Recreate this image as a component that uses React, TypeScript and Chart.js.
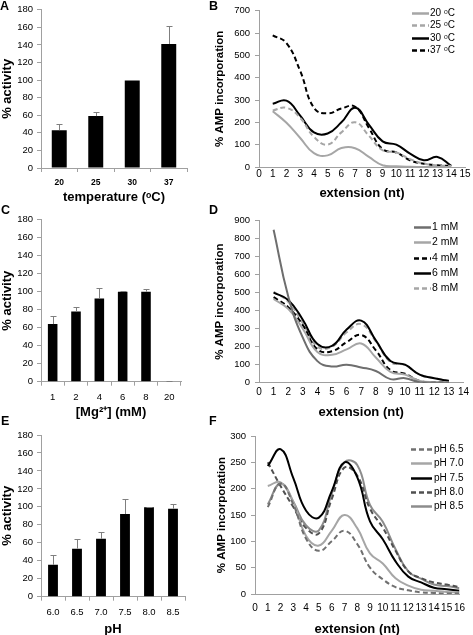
import React, { useEffect, useRef } from "react";
import { Chart, registerables } from "chart.js";
Chart.register(...registerables);

const FONT = "'Liberation Sans', Arial, Helvetica, sans-serif";
const AXIS = "#a0a0a0";
const LIGHT = "#a6a6a6";

// ---- Panel A: temperature bars ----
const tempCategories = ["20", "25", "30", "37"];
const tempActivity = [43, 59, 99.5, 141];
const tempError = [7.5, 4.5, 1, 20];

// ---- Panel C: Mg bars ----
const mgCategories = ["1", "2", "4", "6", "8", "20"];
const mgActivity = [64, 78, 92.5, 100, 100, 0.5];
const mgError = [8.5, 4.5, 11.5, 0.5, 3, 0.5];

// ---- Panel E: pH bars ----
const phCategories = ["6.0", "6.5", "7.0", "7.5", "8.0", "8.5"];
const phActivity = [35.5, 53.5, 64.5, 92, 99.5, 98];
const phError = [10.5, 10.5, 7, 17, 0.5, 5.5];

// ---- Panel B: extension vs temperature ----
const extB = [1, 2, 3, 4, 5, 6, 7, 8, 9, 10, 11, 12, 13, 14];
const t20 = [250, 198, 130, 62, 52, 85, 84, 45, 8, 3, 1, 0, 0, 0];
const t25 = [253, 265, 220, 135, 100, 155, 200, 140, 75, 65, 35, 15, 8, 5];
const t30 = [283, 297, 230, 155, 150, 200, 265, 190, 115, 100, 60, 30, 45, 5];
const t37 = [590, 555, 430, 265, 240, 262, 270, 175, 80, 65, 30, 15, 8, 5];

// ---- Panel D: extension vs Mg ----
const extD = [1, 2, 3, 4, 5, 6, 7, 8, 9, 10, 11, 12, 13];
const mg1 = [850, 480, 250, 120, 90, 100, 85, 65, 20, 25, 2, 0, 0];
const mg2 = [465, 410, 300, 170, 155, 185, 218, 140, 60, 45, 10, 3, 2];
const mg4 = [475, 420, 320, 185, 175, 225, 265, 180, 70, 50, 10, 3, 2];
const mg6 = [500, 460, 350, 215, 205, 295, 345, 235, 120, 100, 45, 25, 10];
const mg8 = [505, 450, 330, 200, 200, 280, 325, 230, 115, 98, 45, 25, 12];

// ---- Panel F: extension vs pH ----
const extF = [1, 2, 3, 4, 5, 6, 7, 8, 9, 10, 11, 12, 13, 14, 15, 16];
const ph65 = [165, 210, 170, 105, 82, 100, 120, 95, 50, 28, 13, 7, 3, 2, 1, 1];
const ph70 = [205, 212, 175, 110, 92, 120, 150, 125, 77, 58, 30, 16, 8, 6, 4, 3];
const ph75 = [243, 275, 220, 158, 145, 195, 250, 222, 138, 104, 62, 33, 22, 12, 9, 6];
const ph80 = [250, 205, 165, 125, 115, 180, 240, 225, 162, 126, 82, 43, 30, 22, 18, 13];
const ph85 = [170, 210, 175, 130, 121, 190, 250, 245, 169, 137, 85, 43, 29, 18, 15, 11];

const errorBarPlugin = {
  id: "errorBars",
  afterDatasetsDraw(chart: any, _args: any, opts: any) {
    const errs: number[] = opts.errors;
    if (!errs) return;
    const meta = chart.getDatasetMeta(0);
    const ys = chart.scales.y;
    const ctx = chart.ctx;
    const vals = chart.data.datasets[0].data;
    ctx.save();
    ctx.strokeStyle = opts.color;
    ctx.lineWidth = 1;
    meta.data.forEach((bar: any, i: number) => {
      const top = Math.round(ys.getPixelForValue(vals[i] + errs[i])) + 0.5;
      const x = Math.round(bar.x) + 0.5;
      ctx.beginPath();
      ctx.moveTo(x, bar.y);
      ctx.lineTo(x, top);
      ctx.moveTo(x - opts.cap, top);
      ctx.lineTo(x + opts.cap, top);
      ctx.stroke();
    });
    ctx.restore();
  },
};

const lineLegendPlugin = {
  id: "lineLegend",
  afterDraw(chart: any, _args: any, opts: any) {
    if (!opts || opts.x0 === undefined) return;
    const ctx = chart.ctx;
    chart.data.datasets.forEach((ds: any, i: number) => {
      const y = Math.round(opts.y + i * opts.spacing) + 0.5;
      ctx.save();
      ctx.strokeStyle = ds.borderColor;
      ctx.lineWidth = 2.5;
      ctx.setLineDash(ds.borderDash || []);
      ctx.beginPath();
      ctx.moveTo(opts.x0, y);
      ctx.lineTo(opts.x1, y);
      ctx.stroke();
      ctx.setLineDash([]);
      ctx.fillStyle = "#000";
      ctx.font = `${opts.size}px ${FONT}`;
      ctx.textBaseline = "middle";
      ctx.textAlign = "left";
      ctx.fillText(ds.label, opts.tx, y);
      ctx.restore();
    });
  },
};

type Area = { l: number; r: number; t: number; b: number };

function barConfig(p: {
  labels: string[];
  values: number[];
  errors: number[];
  xTitle: string;
  w: number;
  h: number;
  area: Area;
  xTickFont: any;
  xTickPad: number;
  xTitlePad: number;
}) {
  return {
    type: "bar",
    data: {
      labels: p.labels,
      datasets: [
        {
          data: p.values,
          backgroundColor: "#000",
          borderWidth: 0,
          categoryPercentage: 0.5,
          barPercentage: 0.82,
        },
      ],
    },
    options: {
      animation: false,
      responsive: false,
      events: [],
      layout: { padding: { left: 0, top: p.area.t, right: p.w - p.area.r, bottom: 0 } },
      plugins: {
        legend: { display: false },
        tooltip: { enabled: false },
        errorBars: { errors: p.errors, color: "#7f7f7f", cap: 3 },
      },
      scales: {
        x: {
          type: "category",
          offset: true,
          grid: { display: true, drawOnChartArea: false, offset: true, tickLength: 4, color: AXIS },
          border: { color: AXIS },
          ticks: { font: p.xTickFont, color: "#000", padding: p.xTickPad, maxRotation: 0, autoSkip: false },
          title: {
            display: true,
            text: p.xTitle,
            color: "#000",
            font: { family: FONT, size: 13, weight: "bold" },
            padding: { top: 0, bottom: p.xTitlePad },
          },
          afterFit: (s: any) => {
            s.height = p.h - p.area.b;
          },
        },
        y: {
          min: 0,
          max: 180,
          ticks: { stepSize: 20, font: { family: FONT, size: 9.5 }, color: "#000", padding: 4 },
          grid: { display: true, drawOnChartArea: false, tickLength: 4, color: AXIS },
          border: { color: AXIS },
          title: {
            display: true,
            text: "% activity",
            color: "#000",
            font: { family: FONT, size: 13, weight: "bold" },
            padding: { top: 0, bottom: 0 },
          },
          afterFit: (s: any) => {
            s.width = p.area.l;
          },
        },
      },
    },
    plugins: [errorBarPlugin],
  };
}

type Series = { label: string; values: number[]; color: string; dash?: number[] };

function lineConfig(p: {
  xs: number[];
  series: Series[];
  xMax: number;
  yMax: number;
  yStep: number;
  w: number;
  h: number;
  area: Area;
  xTickPad: number;
  xTitlePad: number;
  yTitlePad: number;
  legend: any;
}) {
  return {
    type: "line",
    data: {
      datasets: p.series.map((s) => ({
        label: s.label,
        data: p.xs.map((x, i) => ({ x, y: s.values[i] })),
        borderColor: s.color,
        borderDash: s.dash || [],
        borderWidth: 2,
        pointRadius: 0,
        tension: 0.45,
        fill: false,
      })),
    },
    options: {
      animation: false,
      responsive: false,
      events: [],
      layout: { padding: { left: 0, top: p.area.t, right: p.w - p.area.r, bottom: 0 } },
      plugins: {
        legend: { display: false },
        tooltip: { enabled: false },
        lineLegend: p.legend,
      },
      scales: {
        x: {
          type: "linear",
          min: 0,
          max: p.xMax,
          grid: { display: true, drawOnChartArea: false, drawTicks: false, color: AXIS },
          border: { color: AXIS },
          ticks: {
            stepSize: 1,
            font: { family: FONT, size: 10 },
            color: "#000",
            padding: p.xTickPad,
            maxRotation: 0,
            autoSkip: false,
          },
          title: {
            display: true,
            text: "extension (nt)",
            color: "#000",
            font: { family: FONT, size: 13, weight: "bold" },
            padding: { top: 0, bottom: p.xTitlePad },
          },
          afterFit: (s: any) => {
            s.height = p.h - p.area.b;
          },
        },
        y: {
          min: 0,
          max: p.yMax,
          ticks: { stepSize: p.yStep, font: { family: FONT, size: 9.5 }, color: "#000", padding: 5 },
          grid: { display: true, drawOnChartArea: false, tickLength: 4, color: AXIS },
          border: { color: AXIS },
          title: {
            display: true,
            text: "% AMP incorporation",
            color: "#000",
            font: { family: FONT, size: 11.5, weight: "bold" },
            padding: { top: p.yTitlePad, bottom: 0 },
          },
          afterFit: (s: any) => {
            s.width = p.area.l;
          },
        },
      },
    },
    plugins: [lineLegendPlugin],
  };
}

function ChartBox(props: { left: number; top: number; width: number; height: number; make: () => any }) {
  const ref = useRef<HTMLCanvasElement>(null);
  useEffect(() => {
    const chart = new Chart(ref.current as HTMLCanvasElement, props.make());
    return () => chart.destroy();
  }, []);
  return (
    <canvas
      ref={ref}
      width={props.width}
      height={props.height}
      style={{ position: "absolute", left: props.left, top: props.top, width: props.width, height: props.height }}
    />
  );
}

const letterStyle = (left: number, top: number): React.CSSProperties => ({
  position: "absolute",
  left,
  top,
  fontFamily: FONT,
  fontWeight: "bold",
  fontSize: 12.5,
  lineHeight: "12px",
  color: "#000",
});

export default function App() {
  return (
    <div style={{ position: "absolute", left: 0, top: 0, width: 473, height: 635, background: "#fff", overflow: "hidden" }}>
      <ChartBox
        left={0}
        top={0}
        width={210}
        height={210}
        make={() =>
          barConfig({
            labels: tempCategories,
            values: tempActivity,
            errors: tempError,
            xTitle: "temperature (ᵒC)",
            w: 210,
            h: 210,
            area: { l: 41, r: 187, t: 7.5, b: 168 },
            xTickFont: { family: FONT, size: 8.5, weight: "bold" },
            xTickPad: 6,
            xTitlePad: 5,
          })
        }
      />
      <ChartBox
        left={210}
        top={0}
        width={263}
        height={210}
        make={() =>
          lineConfig({
            xs: extB,
            series: [
              { label: "20 ᵒC", values: t20, color: LIGHT },
              { label: "25 ᵒC", values: t25, color: LIGHT, dash: [5, 3] },
              { label: "30 ᵒC", values: t30, color: "#000" },
              { label: "37 ᵒC", values: t37, color: "#000", dash: [5, 3] },
            ],
            xMax: 15,
            yMax: 700,
            yStep: 100,
            w: 263,
            h: 210,
            area: { l: 49, r: 255, t: 7.3, b: 167 },
            xTickPad: 1,
            xTitlePad: 9,
            yTitlePad: 3,
            legend: { x0: 202, x1: 219, tx: 220, y: 12.7, spacing: 12.4, size: 10 },
          })
        }
      />
      <ChartBox
        left={0}
        top={210}
        width={210}
        height={210}
        make={() =>
          barConfig({
            labels: mgCategories,
            values: mgActivity,
            errors: mgError,
            xTitle: "[Mg²⁺] (mM)",
            w: 210,
            h: 210,
            area: { l: 41, r: 181, t: 7.3, b: 171.7 },
            xTickFont: { family: FONT, size: 9.5 },
            xTickPad: 5.5,
            xTitlePad: 0,
          })
        }
      />
      <ChartBox
        left={210}
        top={210}
        width={263}
        height={210}
        make={() =>
          lineConfig({
            xs: extD,
            series: [
              { label: "1 mM", values: mg1, color: "#6e6e6e" },
              { label: "2 mM", values: mg2, color: LIGHT },
              { label: "4 mM", values: mg4, color: "#000", dash: [5, 3] },
              { label: "6 mM", values: mg6, color: "#000" },
              { label: "8 mM", values: mg8, color: LIGHT, dash: [5, 3] },
            ],
            xMax: 14,
            yMax: 900,
            yStep: 100,
            w: 263,
            h: 210,
            area: { l: 49, r: 257, t: 7.3, b: 172.7 },
            xTickPad: 4,
            xTitlePad: 0,
            yTitlePad: 3,
            legend: { x0: 204, x1: 221, tx: 222, y: 17.3, spacing: 15.1, size: 10.5 },
          })
        }
      />
      <ChartBox
        left={0}
        top={420}
        width={210}
        height={215}
        make={() =>
          barConfig({
            labels: phCategories,
            values: phActivity,
            errors: phError,
            xTitle: "pH",
            w: 210,
            h: 215,
            area: { l: 41, r: 185, t: 15, b: 176.7 },
            xTickFont: { family: FONT, size: 9.5 },
            xTickPad: 5.5,
            xTitlePad: -2.5,
          })
        }
      />
      <ChartBox
        left={210}
        top={420}
        width={263}
        height={215}
        make={() =>
          lineConfig({
            xs: extF,
            series: [
              { label: "pH 6.5", values: ph65, color: "#707070", dash: [5, 3] },
              { label: "pH 7.0", values: ph70, color: LIGHT },
              { label: "pH 7.5", values: ph75, color: "#000" },
              { label: "pH 8.0", values: ph80, color: "#505050", dash: [5, 3] },
              { label: "pH 8.5", values: ph85, color: "#8c8c8c" },
            ],
            xMax: 16,
            yMax: 300,
            yStep: 50,
            w: 263,
            h: 215,
            area: { l: 45, r: 255, t: 16, b: 174 },
            xTickPad: 8,
            xTitlePad: -1.8,
            yTitlePad: 4.5,
            legend: { x0: 201, x1: 222, tx: 224, y: 29, spacing: 14.25, size: 10 },
          })
        }
      />
      <div style={letterStyle(0, 0)}>A</div>
      <div style={letterStyle(209, 0)}>B</div>
      <div style={letterStyle(1, 204)}>C</div>
      <div style={letterStyle(209, 204)}>D</div>
      <div style={letterStyle(1, 415)}>E</div>
      <div style={letterStyle(209, 415)}>F</div>
    </div>
  );
}
